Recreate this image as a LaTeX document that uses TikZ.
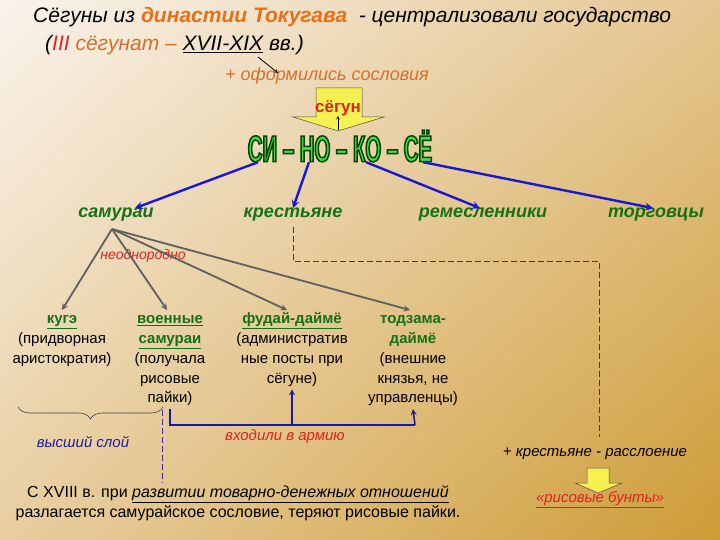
\documentclass[tikz,border=0pt]{standalone}
\usepackage{fontspec}
\setmainfont{Liberation Sans}
\newfontfamily\condfont[FakeStretch=0.55]{Liberation Sans Bold}
\usetikzlibrary{arrows,shapes,calc,positioning,decorations.pathreplacing,shadings}

\definecolor{bgtl}{RGB}{250,243,236}
\definecolor{bgtr}{RGB}{228,198,144}
\definecolor{bgbl}{RGB}{232,206,160}
\definecolor{bgbr}{RGB}{206,156,54}
\definecolor{titleorange}{RGB}{232,112,26}
\definecolor{softorange}{RGB}{214,112,44}
\definecolor{levelgreen}{RGB}{22,112,22}
\definecolor{sinogreen}{RGB}{70,220,70}
\definecolor{arrowblue}{RGB}{24,24,210}
\definecolor{armyblue}{RGB}{26,26,160}
\definecolor{forkgray}{RGB}{95,95,95}
\definecolor{notered}{RGB}{224,34,34}
\definecolor{noteblue}{RGB}{30,30,150}
\definecolor{dashblue}{RGB}{60,40,160}
\definecolor{blockyellow}{RGB}{246,240,80}

% green text with a dark outline
\newcommand{\outlined}[1]{\special{pdf:literal direct 2 Tr 1.5 w 0 0.27 0 RG}#1\special{pdf:literal direct 0 Tr 0.4 w}}
\newcommand{\kw}[1]{\textcolor{levelgreen}{\bfseries\underline{#1}}}
\newcommand{\notefont}{\fontsize{15}{19.7}\selectfont\itshape}

\begin{document}
\begin{tikzpicture}[%
    x=1pt, y=-1pt,
    >=stealth,
    every node/.style={inner sep=0pt, font=\fontsize{15}{19.7}\selectfont},
    level/.style={text=levelgreen, font=\fontsize{18}{20}\selectfont\bfseries\itshape},
    group/.style={align=center, anchor=north},
    bluearrow/.style={->, arrowblue, line width=2.4pt},
    forkline/.style={->, forkgray, line width=1.8pt},
    armyline/.style={armyblue, line width=1.6pt},
    dashline/.style={dashblue, line width=1pt, dash pattern=on 6pt off 3pt},
    blockarrow/.style={draw=black!70, line width=0.5pt, fill=blockyellow}
  ]
  \useasboundingbox (0,0) rectangle (720,540);
  \shade[upper left=bgtl, upper right=bgtr, lower left=bgbl, lower right=bgbr] (0,0) rectangle (720,540);

  % heading
  \node[anchor=base west, font=\fontsize{21}{24}\selectfont\itshape] (title) at (33,23)
    {Сёгуны из \textcolor{titleorange}{\bfseries династии Токугава}\ \ - централизовали государство};
  \node[anchor=base west, font=\fontsize{21}{24}\selectfont\itshape] (era) at (45,51)
    {(\textcolor{notered}{III} \textcolor{softorange}{сёгунат –} \underline{XVII-XIX} вв.)};
  \node[text=softorange, font=\fontsize{18}{20}\selectfont\itshape] (estates) at (327,76) {+ оформились сословия};
  \coordinate (eratail) at (258,57);
  \coordinate (eratip) at (278,73);
  \draw[->, line width=0.8pt] (eratail) -- (eratip);

  % shogun above the four estates
  \draw[blockarrow] (316,88) -- (362,88) -- (362,117) -- (384,117) -- (338,131) -- (293,117) -- (316,117) -- cycle;
  \node[text=notered, font=\fontsize{17}{19}\selectfont\bfseries] (shogun) at (338,108) {сёгун};
  \node[text=sinogreen, font=\fontsize{37}{37}\condfont] (sino) at (340,146) {\outlined{СИ – НО – КО – СЁ}};
  \draw[->, line width=0.6pt] (sino.north -| shogun) -- (shogun.south);

  \node[level] (samurai) at (116,215) {самураи};
  \node[level] (peasants) at (293,215) {крестьяне};
  \node[level] (artisans) at (483,215) {ремесленники};
  \node[level] (merchants) at (656,215) {торговцы};

  \draw[bluearrow] ([xshift=-82pt]sino.south) -- ([xshift=19pt]samurai.north);
  \draw[bluearrow] ([xshift=-31pt]sino.south) -- (peasants.north);
  \draw[bluearrow] ([xshift=26pt]sino.south) -- ([xshift=-3pt]artisans.north);
  \draw[bluearrow] ([xshift=83pt]sino.south) -- ([xshift=-3pt]merchants.north);

  % samurai groups
  \coordinate (fork) at (112,229);
  \node[text=notered, font=\fontsize{14}{16}\selectfont\itshape] (mixed) at (143,256) {неоднородно};
  \node[group] (kuge) at (62,310) {\strut\kw{кугэ}\\(придворная\\аристократия)};
  \node[group] (voen) at (170,310) {\strut\kw{военные}\\\kw{самураи}\\(получала\\рисовые\\пайки)};
  \node[group] (fudai) at (292,310) {\strut\kw{фудай-даймё}\\(административ\\ные посты при\\сёгуне)};
  \node[group] (tozama) at (413,310) {\strut\textcolor{levelgreen}{\bfseries тодзама-}\\\textcolor{levelgreen}{\bfseries даймё}\\(внешние\\князья, не\\управленцы)};

  \draw[forkline] (fork) -- (kuge.north);
  \draw[forkline] (fork) -- ([xshift=-3pt]voen.north);
  \draw[forkline] (fork) -- ([xshift=-5pt]fudai.north);
  \draw[forkline] (fork) -- ([xshift=-3pt]tozama.north);

  \coordinate (armyright) at (415,425);
  \draw[armyline] ([yshift=-3pt]voen.south) |- (armyright);
  \draw[armyline,->] (armyright) -- ([yshift=-3pt]tozama.south);
  \draw[armyline,->] (fudai.south |- armyright) -- ([yshift=-3pt]fudai.south);
  \node[text=notered, font=\notefont] (army) at (285,437) {входили в армию};

  \draw[decorate, decoration={brace, mirror, amplitude=12pt}, black!75, line width=0.6pt] (18,407) -- (163,407);
  \node[text=noteblue, font=\notefont] (upper) at (83,442) {высший слой};

  % later changes
  \node[align=center, font=\fontsize{16}{20}\selectfont] (decline) at (238,503)
    {С XVIII в. при \underline{\textit{развитии товарно-денежных отношений}}\\разлагается самурайское сословие, теряют рисовые пайки.};
  \coordinate (splittop) at (162,410);
  \coordinate (splitend) at (162,483);
  \draw[dashline] (splittop) -- (splitend);

  \node[font=\notefont] (strata) at (595,454) {+ крестьяне - расслоение};
  \coordinate (dashcorner) at (599,261);
  \coordinate (dashend) at (599,437);
  \draw[dashline] ([yshift=-5pt]peasants.south) |- (dashcorner) -- (dashend);

  \draw[blockarrow] (587,468) -- (609,468) -- (609,483) -- (622,483) -- (598,493) -- (575,483) -- (587,483) -- cycle;
  \node[text=notered, font=\notefont] (riot) at (600,500) {\underline{«рисовые бунты»}};
\end{tikzpicture}
\end{document}
